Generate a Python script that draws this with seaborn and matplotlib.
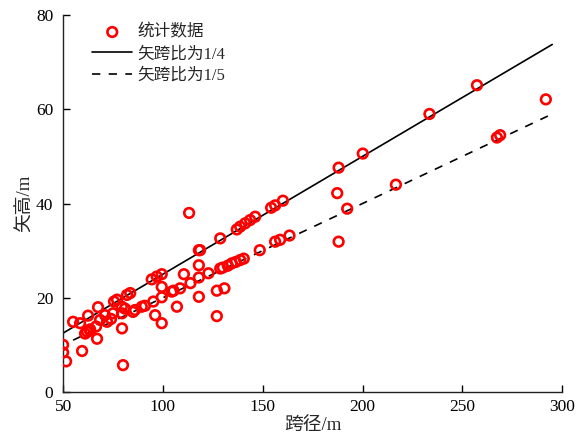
import matplotlib
matplotlib.use("Agg")
import matplotlib.pyplot as plt
import seaborn as sns
import pandas as pd

# Surveyed arches: span (m) and rise (m)
span = [50, 50, 51.5, 55, 58.5, 59.5, 62, 63.5, 62.5, 66.5,
        67, 67.5, 68.5, 71, 72, 74, 75, 75.5, 77, 79.5,
        79.5, 80, 81, 82, 83.6, 79.4, 86, 89.4, 95.2, 99.4,
        94.4, 96.9, 99.4, 99.4, 96.1, 99.4, 104.4, 105.3, 108.6, 107,
        110.5, 113.8, 118, 118, 118, 118, 122.8, 113.1, 127, 130.8,
        127, 128.7, 130, 132.5, 134.5, 136.5, 138.7, 140.5, 128.7, 118.6,
        137, 138.7, 141.2, 143.7, 146.2, 148.5, 154.2, 156.2, 160.1, 156.2,
        158.7, 163.4, 188, 187.3, 188, 192.3, 200.1, 216.7, 233.5, 257.3,
        267.3, 268.9, 291.8, 61, 63.5, 85, 91]
rise = [10.0, 8.4, 6.5, 14.9, 14.6, 8.7, 12.8, 13.3, 16.2, 13.9,
        11.3, 18.0, 15.3, 16.3, 14.9, 15.5, 16.7, 19.2, 19.6, 16.7,
        13.5, 5.7, 17.7, 20.6, 21.0, 18.1, 17.4, 18.1, 19.2, 20.1,
        23.9, 24.5, 25.0, 22.3, 16.3, 14.6, 21.3, 21.5, 22.0, 18.1,
        25.0, 23.1, 30.1, 26.9, 24.3, 20.2, 25.2, 38.0, 21.5, 22.0,
        16.1, 26.2, 26.4, 26.8, 27.3, 27.6, 28.0, 28.3, 32.6, 30.1,
        34.5, 35.1, 35.8, 36.5, 37.2, 30.1, 39.1, 39.6, 40.6, 31.9,
        32.3, 33.2, 47.6, 42.2, 31.9, 38.9, 50.6, 44.0, 59.0, 65.1,
        54.0, 54.5, 62.1, 12.4, 13.0, 17.0, 18.3]

# Reference rise-to-span ratios
ratio_quarter = 1 / 4
ratio_fifth = 1 / 5
quarter_span = [50, 295]
fifth_span = [55, 295]

labels = ["统计数据", "矢跨比为1/4", "矢跨比为1/5"]
x_ticks = [50, 100, 150, 200, 250, 300]
y_ticks = [0, 20, 40, 60, 80]

sns.set_style("ticks")
plt.rcParams["font.family"] = ["Liberation Serif", "Noto Sans CJK SC"]
plt.rcParams["xtick.direction"] = "in"
plt.rcParams["ytick.direction"] = "in"

fig = plt.figure(figsize=(5.79, 4.48), dpi=100)
ax = fig.add_axes([0.109, 0.125, 0.862, 0.8415])

pts = pd.DataFrame({"span": span, "rise": rise})
sns.scatterplot(data=pts, x="span", y="rise", ax=ax, marker="o",
                s=48, facecolors="none", edgecolor="#ff0000", linewidth=1.9,
                label=labels[0], zorder=3)

q = pd.DataFrame({"span": quarter_span,
                  "rise": [v * ratio_quarter for v in quarter_span]})
f = pd.DataFrame({"span": fifth_span,
                  "rise": [v * ratio_fifth for v in fifth_span]})
sns.lineplot(data=q, x="span", y="rise", ax=ax, color="black", lw=1.2,
             label=labels[1], zorder=2)
sns.lineplot(data=f, x="span", y="rise", ax=ax, color="black", lw=1.2,
             linestyle=(0, (5, 5)), label=labels[2], zorder=2)

ax.set_xlim(50, 300)
ax.set_ylim(0, 80)
ax.set_xticks(x_ticks)
ax.set_yticks(y_ticks)
ax.tick_params(labelsize=12.5, length=5, width=1, colors="black")
ax.tick_params(axis="x", pad=5)
ax.tick_params(axis="y", pad=7)
for s in ["left", "bottom"]:
    ax.spines[s].set_linewidth(1.0)
    ax.spines[s].set_color("#222222")
sns.despine(ax=ax)

ax.set_xlabel("跨径/m", fontsize=13.5, labelpad=2)
ax.set_ylabel("矢高/m", fontsize=13.5, labelpad=2)

ax.legend(loc="upper left", frameon=False, fontsize=12,
          bbox_to_anchor=(0.04, 1.0), handlelength=2.4,
          handletextpad=0.3, labelspacing=0.35, borderaxespad=0.15)

fig.savefig("out.png", dpi=100)
